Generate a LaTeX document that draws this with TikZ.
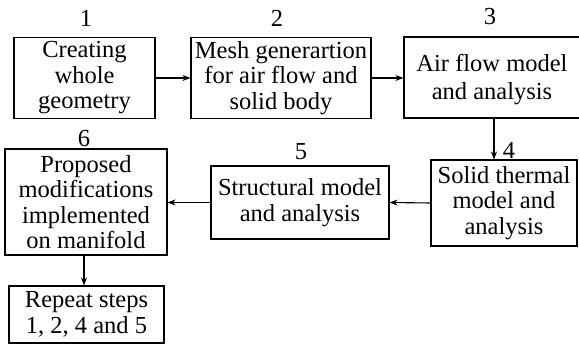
\documentclass[tikz,border=0pt]{standalone}
\usepackage{fontspec}
\setmainfont{Liberation Serif}
\usetikzlibrary{arrows.meta}
\begin{document}
\begin{tikzpicture}[x=1pt,y=-1pt,
  box/.style={draw,line width=1.1pt,inner sep=0pt,align=center,
    font=\fontsize{24.5}{25.5}\selectfont},
  num/.style={inner sep=0pt,font=\fontsize{24.5}{25.5}\selectfont},
  link/.style={line width=1.1pt,-{Stealth[length=8pt,width=6pt]}}]
\useasboundingbox (0,0) rectangle (579,344);
% process steps
\node[box,minimum width=141pt,minimum height=81pt] (s1) at (84.5,78) {Creating\\whole\\geometry};
\node[box,minimum width=180pt,minimum height=81pt] (s2) at (281,78) {Mesh generartion\\for air flow and\\solid body};
\node[box,minimum width=178pt,minimum height=81pt] (s3) at (493,77.5) {};
\node[box,draw=none,font=\fontsize{24.5}{28}\selectfont] (t3) at (492,80) {Air flow model\\and analysis};
\node[box,minimum width=146pt,minimum height=86pt] (s4) at (504,203) {Solid thermal\\model and\\analysis};
\node[box,minimum width=178pt,minimum height=73pt] (s5) at (300,202.5) {Structural model\\and analysis};
\node[box,minimum width=162pt,minimum height=106pt] (s6) at (86,202) {Proposed\\modifications\\implemented\\on manifold};
\node[box,minimum width=155pt,minimum height=57pt] (s7) at (86.5,314.5) {Repeat steps\\1, 2, 4 and 5};
% step numbers
\node[num] (n1) at (86,18) {1};
\node[num] (n2) at (277,18) {2};
\node[num] (n3) at (490,17) {3};
\node[num] (n4) at (509,150) {4};
\node[num] (n5) at (301,152) {5};
\node[num] (n6) at (84,138.5) {6};
% connectors
\draw[link] (s1.east) -- (s2.west);
\draw[link] (s2.east) -- (s2.east -| s3.west);
\draw[link] (s3.south -| 494,0) -- (s4.north -| 494,0);
\draw[link] (s4.west) -- (s5.east);
\draw[link] (s5.west) -- (s6.east |- s5.west);
\draw[link] (s6.south -| 84,0) -- (s7.north -| 84,0);
\end{tikzpicture}
\end{document}
